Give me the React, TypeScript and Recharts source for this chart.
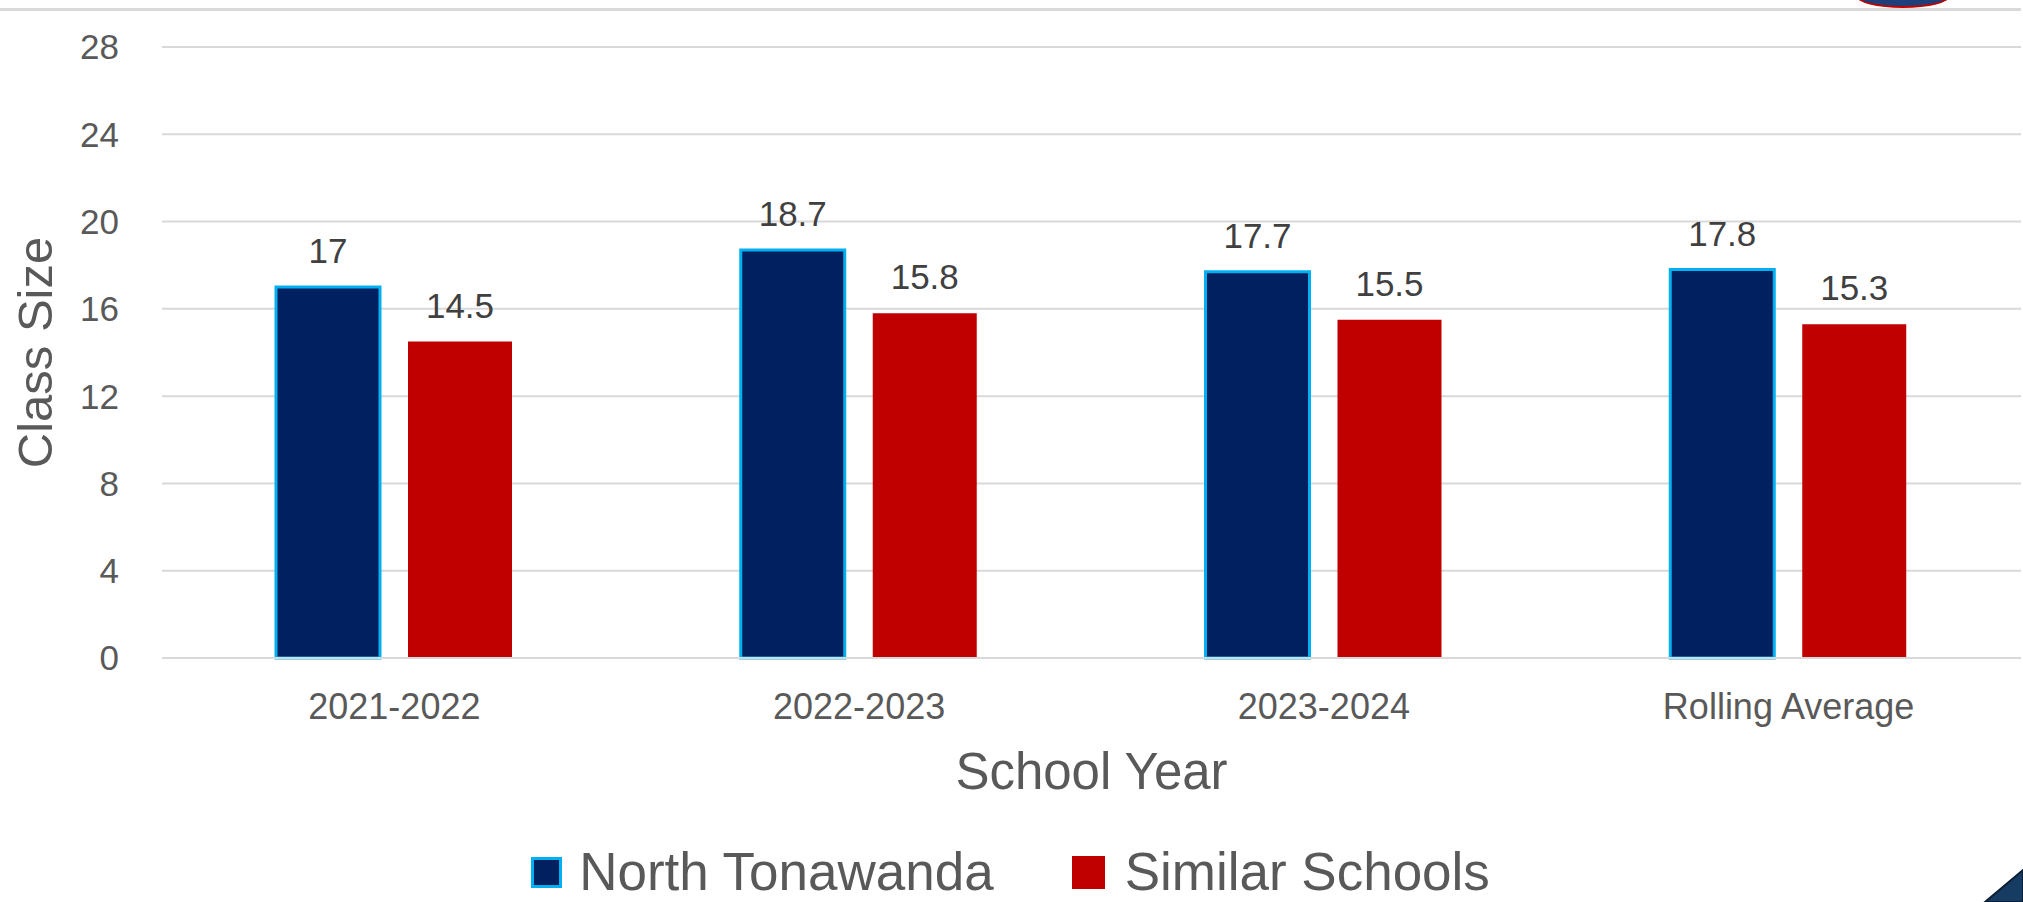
import React from 'react';
import {
  BarChart,
  Bar,
  XAxis,
  YAxis,
  CartesianGrid,
  Legend,
  LabelList,
} from 'recharts';

const categories = ['2021-2022', '2022-2023', '2023-2024', 'Rolling Average'];
const northTonawanda = [17, 18.7, 17.7, 17.8];
const similarSchools = [14.5, 15.8, 15.5, 15.3];
const yTicks = [0, 4, 8, 12, 16, 20, 24, 28];

const NAVY = '#002060';
const NAVY_EDGE = '#00B0F0';
const RED = '#C00000';
const GRID = '#d9d9d9';
const TEXT = '#595959';
const FONT = '"Liberation Sans", Arial, sans-serif';

const chartData = categories.map((name, i) => ({
  name,
  'North Tonawanda': northTonawanda[i],
  'Similar Schools': similarSchools[i],
}));

const renderLegend = () => (
  <div
    style={{
      height: 44,
      display: 'flex',
      alignItems: 'center',
      justifyContent: 'center',
      fontFamily: FONT,
      fontSize: 53,
      color: TEXT,
    }}
  >
    <span
      style={{
        width: 25,
        height: 25,
        background: NAVY,
        border: `3px solid ${NAVY_EDGE}`,
        marginRight: 17,
      }}
    />
    <span style={{ marginRight: 78, lineHeight: '44px' }}>North Tonawanda</span>
    <span style={{ width: 33, height: 33, background: RED, marginRight: 20 }} />
    <span style={{ lineHeight: '44px' }}>Similar Schools</span>
  </div>
);

const YTitle = (props: any) => {
  const { viewBox } = props;
  const y = viewBox.y + viewBox.height / 2;
  const x = viewBox.x + 52;
  return (
    <text
      x={x}
      y={y}
      transform={`rotate(-90, ${x}, ${y})`}
      textAnchor="middle"
      fontFamily={FONT}
      fontSize={49}
      fill={TEXT}
    >
      Class Size
    </text>
  );
};

const XTitle = (props: any) => {
  const { viewBox } = props;
  return (
    <text
      x={viewBox.x + viewBox.width / 2}
      y={viewBox.y + 131}
      textAnchor="middle"
      fontFamily={FONT}
      fontSize={51}
      fill={TEXT}
    >
      School Year
    </text>
  );
};

export default function App() {
  return (
    <div style={{ position: 'absolute', left: 0, top: 0, width: 2023, height: 902, background: '#fff', overflow: 'hidden' }}>
      {/* slide header rule and decorations */}
      <div style={{ position: 'absolute', left: 0, top: 8, width: 2021, height: 3, background: GRID }} />
      <div
        style={{
          position: 'absolute',
          left: 1856,
          top: -16,
          width: 90,
          height: 20,
          borderRadius: '50%',
          background: '#1f3f7a',
          border: `2px solid ${RED}`,
        }}
      />
      <svg style={{ position: 'absolute', left: 1980, top: 864 }} width={43} height={38}>
        <polygon points="5,38 43,6 43,38" fill="#173c63" stroke="#0b1f33" strokeWidth={2} />
      </svg>

      <BarChart
        width={2023}
        height={902}
        data={chartData}
        margin={{ top: 47, right: 2, left: 0, bottom: 8 }}
        barSize={104}
        barGap={28}
      >
        <CartesianGrid vertical={false} stroke={GRID} strokeWidth={2} />
        <XAxis
          dataKey="name"
          height={192}
          axisLine={{ stroke: GRID, strokeWidth: 2 }}
          tickLine={false}
          tickSize={0}
          tickMargin={35}
          interval={0}
          tick={{ fontFamily: FONT, fontSize: 36, fill: TEXT }}
          label={<XTitle />}
        />
        <YAxis
          width={162}
          domain={[0, 28]}
          ticks={yTicks}
          interval={0}
          axisLine={false}
          tickLine={false}
          tickSize={0}
          tickMargin={43}
          tick={{ fontFamily: FONT, fontSize: 35, fill: TEXT }}
          label={<YTitle />}
        />
        <Legend verticalAlign="bottom" align="center" height={44} content={renderLegend} />
        <Bar
          dataKey="North Tonawanda"
          fill={NAVY}
          stroke={NAVY_EDGE}
          strokeWidth={3}
          isAnimationActive={false}
        >
          <LabelList
            dataKey="North Tonawanda"
            position="top"
            offset={24}
            style={{ fontFamily: FONT, fontSize: 35, fill: '#404040' }}
          />
        </Bar>
        <Bar dataKey="Similar Schools" fill={RED} isAnimationActive={false}>
          <LabelList
            dataKey="Similar Schools"
            position="top"
            offset={24}
            style={{ fontFamily: FONT, fontSize: 35, fill: '#404040' }}
          />
        </Bar>
      </BarChart>
    </div>
  );
}
